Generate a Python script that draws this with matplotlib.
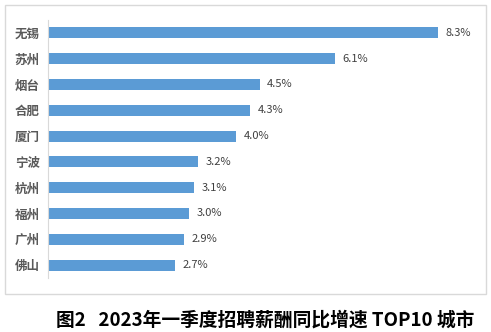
import matplotlib.pyplot as plt
from matplotlib.patches import Rectangle

plt.rcParams['font.family'] = ['Noto Sans CJK SC', 'DejaVu Sans']

cities = ['无锡', '苏州', '烟台', '合肥', '厦门', '宁波', '杭州', '福州', '广州', '佛山']
growth = [8.3, 6.1, 4.5, 4.3, 4.0, 3.2, 3.1, 3.0, 2.9, 2.7]
labels = ['8.3%', '6.1%', '4.5%', '4.3%', '4.0%', '3.2%', '3.1%', '3.0%', '2.9%', '2.7%']

W, H = 491, 332
fig = plt.figure(figsize=(W / 100, H / 100), dpi=100)

# outer frame of the chart area
fig.patches.append(Rectangle((5 / W, 1 - 294 / H), 481 / W, 289 / H,
                             transform=fig.transFigure, fill=False,
                             edgecolor='#D9D9D9', linewidth=1))

ax = fig.add_axes([48 / W, 1 - 278 / H, 423 / W, 258 / H])
ypos = list(range(len(cities)))
ax.barh(ypos, growth, height=0.42, color='#5B9BD5')
ax.set_xlim(0, 9)
ax.set_ylim(len(cities) - 0.5, -0.5)
ax.set_yticks(ypos)
ax.set_yticklabels(cities, fontsize=9, fontweight='bold', color='#595959')
ax.tick_params(axis='y', length=0, pad=6)
ax.set_xticks([])
for s in ['top', 'right', 'bottom']:
    ax.spines[s].set_visible(False)
ax.spines['left'].set_color('#D9D9D9')

for y, v, t in zip(ypos, growth, labels):
    ax.text(v + 0.16, y, t, va='center', ha='left', fontsize=8, color='#404040')

fig.text(265 / W, 1 - 320 / H, '图2   2023年一季度招聘薪酬同比增速 TOP10 城市',
         ha='center', va='center', fontsize=13.5, fontweight='bold', color='black')

fig.savefig('out.png', dpi=100)
